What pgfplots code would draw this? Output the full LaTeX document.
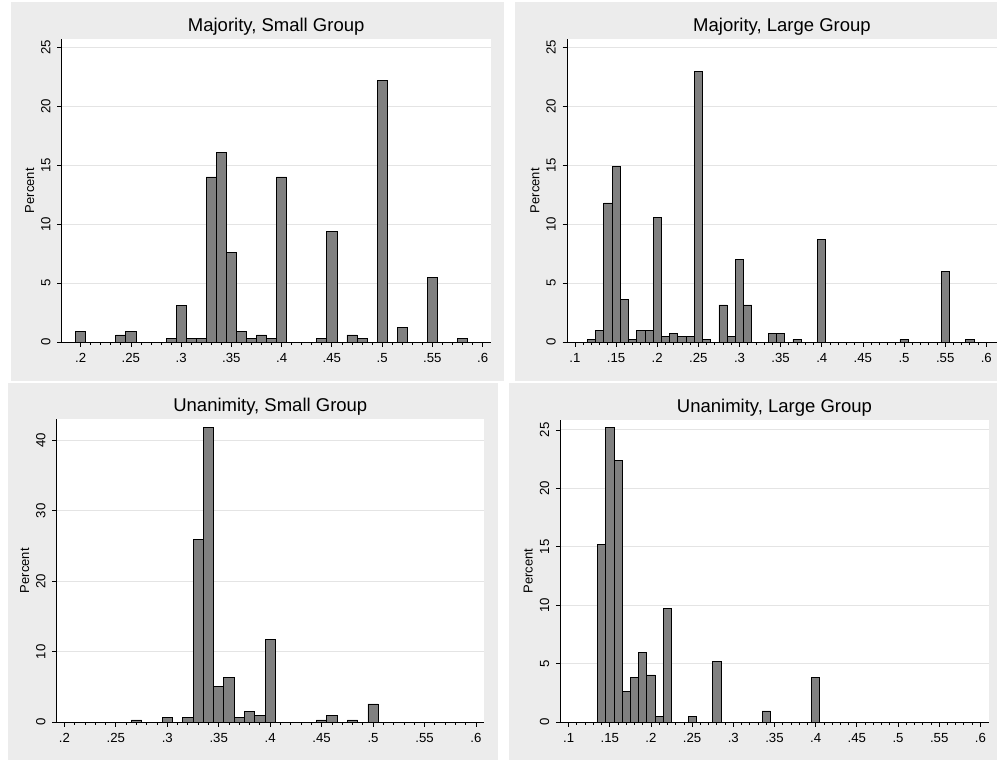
\documentclass[border=0pt]{standalone}
\usepackage{fontspec}
\setmainfont{Liberation Sans}
\usepackage{pgfplots}
\pgfplotsset{compat=1.18}
\definecolor{panelgray}{RGB}{236,236,236}
\definecolor{barfill}{RGB}{128,128,128}
\definecolor{gridgray}{RGB}{228,228,228}

\pgfplotsset{
  stpanel/.style={
    scale only axis,
    axis x line*=bottom, axis y line*=left,
    axis line style={black, line width=0.9pt},
    axis background/.style={fill=white},
    tick align=outside,
    major tick length=4.5pt, minor tick length=2.5pt,
    every tick/.style={black, line width=0.8pt},
    ymajorgrids, major grid style={gridgray, line width=0.9pt},
    minor x tick num=4,
    ymin=0,
    xtick pos=bottom, ytick pos=left,
    /pgf/number format/assume math mode=true,
    tick label style={font=\fontsize{13.2}{15}\selectfont},
    xticklabel style={/pgf/number format/fixed, /pgf/number format/precision=2,
      /pgf/number format/skip 0.=true, anchor=north, inner sep=0pt},
    xticklabel shift=6pt,
    yticklabel style={rotate=90, anchor=south, inner sep=0pt},
    yticklabel shift=6.5pt,
    every axis y label/.style={at={(axis description cs:0,0.5)}, xshift=-32pt,
      rotate=90, anchor=center, font=\fontsize{13}{15}\selectfont},
    ylabel={Percent},
    every axis title/.style={at={(axis description cs:0.5,1)}, anchor=base,
      yshift=7.3pt, font=\fontsize{18.5}{22}\selectfont},
  },
  stbar/.style={ybar, bar width=0.01, fill=barfill, draw=black, line width=0.8pt},
}

\begin{document}
\begin{tikzpicture}[x=1pt,y=1pt]
\useasboundingbox (0,0) rectangle (997,760);
\fill[white] (0,0) rectangle (997,760);
\fill[panelgray] (11,379) rectangle (504,758);
\fill[panelgray] (515,379) rectangle (997,758);
\fill[panelgray] (8,0) rectangle (498,377);
\fill[panelgray] (509,0) rectangle (997,377);

% Majority, Small Group
\begin{axis}[stpanel, at={(61.67pt,417.67pt)}, anchor=south west,
  width=429pt, height=303.33pt,
  xmin=0.1811, xmax=0.608, ymax=25.68,
  xtick={0.2,0.25,0.3,0.35,0.4,0.45,0.5,0.55,0.6},
  ytick={0,5,10,15,20,25},
  title={Majority, Small Group}]
\addplot[stbar] coordinates {
(0.20,0.93) (0.24,0.62) (0.25,0.93) (0.29,0.31) (0.30,3.10) (0.31,0.31)
(0.32,0.31) (0.33,14.0) (0.34,16.1) (0.35,7.6) (0.36,0.93) (0.37,0.31)
(0.38,0.62) (0.39,0.31) (0.40,14.0) (0.44,0.31) (0.45,9.4) (0.47,0.62)
(0.48,0.31) (0.50,22.2) (0.52,1.24) (0.55,5.5) (0.58,0.31)};
\end{axis}

% Majority, Large Group
\begin{axis}[stpanel, at={(567pt,417.67pt)}, anchor=south west,
  width=430pt, height=303.33pt,
  xmin=0.0903, xmax=0.613, ymax=25.68,
  xtick={0.1,0.15,0.2,0.25,0.3,0.35,0.4,0.45,0.5,0.55,0.6},
  ytick={0,5,10,15,20,25},
  title={Majority, Large Group}]
\addplot[stbar] coordinates {
(0.12,0.25) (0.13,0.99) (0.14,11.8) (0.15,14.9) (0.16,3.6) (0.17,0.25)
(0.18,0.99) (0.19,0.99) (0.20,10.6) (0.21,0.49) (0.22,0.74) (0.23,0.49)
(0.24,0.49) (0.25,22.9) (0.26,0.25) (0.28,3.16) (0.29,0.49) (0.30,7.0)
(0.31,3.16) (0.34,0.74) (0.35,0.74) (0.37,0.25) (0.40,8.7) (0.50,0.25)
(0.55,6.0) (0.58,0.25)};
\end{axis}

% Unanimity, Small Group
\begin{axis}[stpanel, at={(56.67pt,37.67pt)}, anchor=south west,
  width=427.33pt, height=303.33pt,
  xmin=0.1925, xmax=0.6078, ymax=43.03,
  xtick={0.2,0.25,0.3,0.35,0.4,0.45,0.5,0.55,0.6},
  ytick={0,10,20,30,40},
  title={Unanimity, Small Group}]
\addplot[stbar] coordinates {
(0.27,0.33) (0.30,0.66) (0.32,0.66) (0.33,25.9) (0.34,41.8) (0.35,5.1)
(0.36,6.4) (0.37,0.66) (0.38,1.6) (0.39,0.99) (0.40,11.8) (0.45,0.33)
(0.46,0.99) (0.48,0.33) (0.50,2.6)};
\end{axis}

% Unanimity, Large Group
\begin{axis}[stpanel, at={(560.33pt,37.67pt)}, anchor=south west,
  width=428.33pt, height=302.67pt,
  xmin=0.0899, xmax=0.6101, ymax=25.88,
  xtick={0.1,0.15,0.2,0.25,0.3,0.35,0.4,0.45,0.5,0.55,0.6},
  ytick={0,5,10,15,20,25},
  title={Unanimity, Large Group}]
\addplot[stbar] coordinates {
(0.14,15.2) (0.15,25.2) (0.16,22.4) (0.17,2.62) (0.18,3.82) (0.19,5.96)
(0.20,4.05) (0.21,0.48) (0.22,9.75) (0.25,0.48) (0.28,5.22) (0.34,0.97)
(0.40,3.82)};
\end{axis}
\end{tikzpicture}
\end{document}
